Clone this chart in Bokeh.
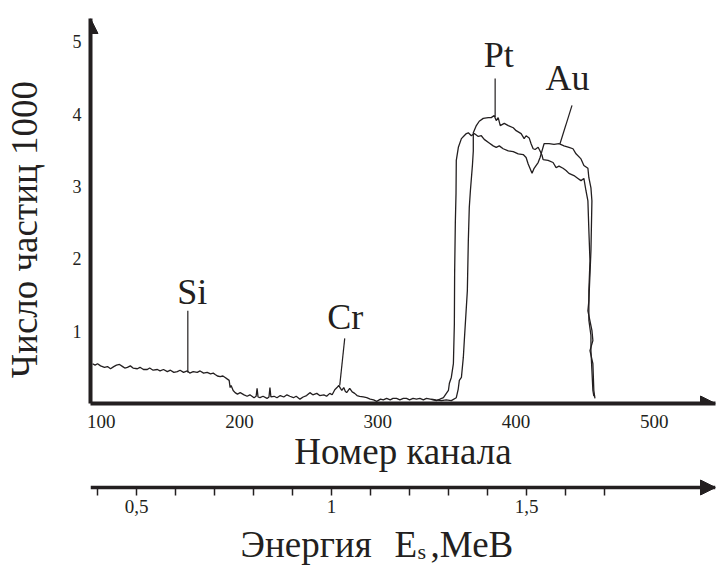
from bokeh.plotting import figure
from bokeh.layouts import column
from bokeh.models import Range1d, FixedTicker, Label, Arrow, NormalHead
from bokeh.core.properties import value
from bokeh.embed import file_html
from bokeh.resources import INLINE

# ---------------- data ----------------
# spectrum 1 (background Si / Cr + outer edge, lower-left plateau, Au hump)
channel_a = [93.7, 95.5, 97.3, 99.5, 102.3, 104.5, 106.7, 109, 111, 113.2, 115.5, 117, 118.9, 121, 123,
             126.1, 128, 130.5, 133.3, 135, 137.5, 140.6, 142.5, 145, 147.8, 150, 152.5, 155, 157, 159.5,
             162.2, 164, 166.5, 169.4, 171.5, 174, 176.6, 179, 181, 182.4, 184, 186, 188, 189.6, 191,
             192.5, 193.2, 193.9, 195.4, 196.8, 198.5, 200.5, 203.3, 205.5, 207.5, 210.5, 212, 212.7,
             213.4, 214.8, 217, 219.9, 221.3, 222, 222.7, 225, 227.1, 229.5, 232, 234.3, 236.4, 239, 241,
             243.7, 246, 248.5, 250.9, 253, 255.9, 258, 261, 263, 265.3, 267, 268.9, 270.5, 271.8, 273,
             274, 275.4, 276.5, 277.5, 279.7, 281.5, 283.3, 285, 286.9, 289.5, 292, 294.5, 297, 299.2,
             302, 304, 306.4, 309, 311, 313.6, 316, 318.5, 320.8, 323, 325.5, 328, 330.5, 333, 335.2,
             338, 340, 342.4, 345, 347.5, 349.6, 351.1, 351.8, 353.2, 354.7, 355.4, 355.6, 356.1, 356.6,
             356.8, 358.3, 360.5, 362.5, 364.1, 365.5, 367.7, 369.8, 372.7, 374.9, 377.0, 380.6, 383.5,
             385.7, 387.9, 390.7, 394.4, 398.0, 401.6, 405.2, 407.3, 408.8, 411.6, 413.1, 416.0, 417.4,
             418.8, 420.3, 423.9, 427.5, 431.1, 434.7, 438.3, 441.2, 443.4, 447.0, 449.1, 452.0, 452.7,
             454.2, 454.9, 454.2, 452.7, 452.0, 454.9, 455.6, 453.5, 455.6, 456.3, 457.1]
counts_a = [0.55, 0.53, 0.55, 0.52, 0.50, 0.51, 0.48, 0.51, 0.53, 0.54, 0.51, 0.49, 0.50, 0.52, 0.49,
            0.48, 0.50, 0.47, 0.47, 0.49, 0.46, 0.47, 0.45, 0.47, 0.44, 0.46, 0.43, 0.44, 0.46, 0.43,
            0.45, 0.42, 0.44, 0.43, 0.45, 0.42, 0.43, 0.41, 0.42, 0.40, 0.38, 0.37, 0.38, 0.36, 0.34,
            0.32, 0.22, 0.25, 0.18, 0.15, 0.13, 0.15, 0.12, 0.10, 0.12, 0.08, 0.10, 0.21,
            0.09, 0.08, 0.10, 0.07, 0.09, 0.22, 0.09, 0.10, 0.08, 0.11, 0.09, 0.12, 0.10, 0.08, 0.10,
            0.06, 0.09, 0.11, 0.15, 0.12, 0.14, 0.11, 0.12, 0.10, 0.14, 0.12, 0.19, 0.22, 0.25, 0.21,
            0.18, 0.22, 0.17, 0.15, 0.21, 0.16, 0.14, 0.11, 0.10, 0.09, 0.08, 0.06, 0.05, 0.03,
            0.06, 0.05, 0.07, 0.05, 0.07, 0.07, 0.05, 0.07, 0.07, 0.05, 0.07, 0.06, 0.07, 0.05, 0.07,
            0.06, 0.05, 0.04, 0.06, 0.08, 0.14, 0.18, 0.28, 0.36, 0.55, 1.10, 1.80, 2.49, 2.90,
            3.36, 3.54, 3.66, 3.70, 3.73, 3.74, 3.70, 3.73, 3.69, 3.70, 3.65, 3.60, 3.56,
            3.54, 3.56, 3.52, 3.49, 3.48, 3.45, 3.44, 3.40, 3.31, 3.18, 3.25, 3.33, 3.40,
            3.49, 3.59, 3.59, 3.58, 3.59, 3.56, 3.54, 3.52, 3.45, 3.38, 3.29, 3.25, 3.12,
            2.98, 2.80, 2.11, 1.42, 1.28, 1.01, 0.87, 0.73, 0.55, 0.18, 0.07]

# spectrum 2 (inner edge, Pt plateau, lower-right plateau)
channel_b = [338.8, 342, 346.0, 349.5, 353.2, 356.8, 358.2, 359.0, 360.5, 361.9, 362.6, 364.8, 365.5,
             366.2, 367.0, 368.5, 369.1, 369.1, 371.3, 373.4, 376.3, 379.9, 382.1, 384.2, 385.7, 387.1,
             388.6, 391.5, 394.4, 398.0, 400.1, 403.7, 405.9, 407.3, 409.5, 410.9, 412.4, 413.8, 416.0,
             417.4, 418.8, 419.6, 423.2, 426.8, 429.0, 431.1, 434.0, 436.2, 438.3, 441.9, 444.8, 447.0,
             449.1, 450.6, 452.0, 452.7, 453.5, 452.7, 452.7, 454.2, 454.2, 454.9, 455.6, 456.3]
counts_b = [0.06, 0.05, 0.04, 0.05, 0.04, 0.08, 0.20, 0.32, 0.36, 0.64, 0.87, 1.56, 2.25,
            2.71, 2.94, 3.30, 3.49, 3.74, 3.84, 3.90, 3.94, 3.95, 3.95, 3.98, 3.91, 3.95,
            3.84, 3.87, 3.84, 3.81, 3.77, 3.73, 3.66, 3.70, 3.67, 3.59, 3.52, 3.51, 3.54,
            3.49, 3.43, 3.37, 3.36, 3.33, 3.26, 3.28, 3.25, 3.22, 3.18, 3.15, 3.11, 3.08,
            3.11, 2.94, 2.80, 2.39, 1.97, 1.56, 1.15, 0.94, 0.73, 0.46, 0.18, 0.10]

x_ticks = [100, 200, 300, 400, 500]
y_ticks = [1, 2, 3, 4, 5]
energy_ticks = [0.4, 0.5, 0.6, 0.7, 0.8, 0.9, 1.0, 1.1, 1.2, 1.3, 1.4, 1.5, 1.6, 1.7]
energy_tick_text = {0.5: "0,5", 1.0: "1", 1.5: "1,5"}

peak_names = ["Si", "Cr", "Pt", "Au"]

# ---------------- layout / style ----------------
X0, X1 = 92.2, 544.3
Y0, Y1 = 0.0, 5.32
E0, E1 = 0.382, 1.984

name_x = [165.8, 276.4, 387.5, 437.2]
name_y = [1.54, 1.20, 4.81, 4.50]
lead_x0 = [162.6, 276.1, 384.9, 440.5]
lead_y0 = [1.28, 0.90, 4.49, 4.12]
lead_x1 = [162.6, 272.5, 384.9, 431.8]
lead_y1 = [0.43, 0.25, 3.96, 3.59]

INK = "#231f20"
FONT = "Liberation Serif"
PAD = "\u00a0" * 4   # keeps the rotated y title a little below the frame centre, as drawn

p = figure(width=718, height=478, x_range=Range1d(X0, X1), y_range=Range1d(Y0, Y1),
           output_backend="svg", toolbar_location=None,
           min_border_left=88, min_border_right=3, min_border_top=18, min_border_bottom=75)
p.outline_line_color = None
p.grid.visible = False

p.line(channel_a, counts_a, line_color=INK, line_width=1.3)
p.line(channel_b, counts_b, line_color=INK, line_width=1.3)

p.segment(lead_x0, lead_y0, lead_x1, lead_y1, line_color=INK, line_width=1.2)
p.text(name_x, name_y, text=peak_names, text_font=value(FONT), text_font_size=value("36px"),
       text_color=INK, text_align="center", text_baseline="middle")

for ax in (p.xaxis[0], p.yaxis[0]):
    ax.axis_line_width = 4
    ax.axis_line_color = INK
    ax.major_tick_line_color = None
    ax.minor_tick_line_color = None
    ax.major_tick_out = 0
    ax.major_tick_in = 0
    ax.major_label_text_font = FONT
    ax.major_label_text_color = INK
    ax.axis_label_text_font = FONT
    ax.axis_label_text_font_style = "normal"
    ax.axis_label_text_color = INK
p.xaxis.major_label_text_font_size = "19px"
p.yaxis.major_label_text_font_size = "18px"
p.xaxis.major_label_standoff = 11
p.yaxis.major_label_standoff = 9
p.xaxis.ticker = FixedTicker(ticks=x_ticks)
p.yaxis.ticker = FixedTicker(ticks=y_ticks)
p.xaxis.axis_label = "Номер канала"
p.xaxis.axis_label_text_font_size = "37px"
p.xaxis.axis_label_standoff = 0
p.yaxis.axis_label = "Число частиц 1000" + PAD
p.yaxis.axis_label_text_font_size = "37px"
p.yaxis.axis_label_standoff = 25

p.add_layout(Arrow(x_start=X0, y_start=Y0, x_end=X0, y_end=Y1, line_color=None,
                   end=NormalHead(size=15, fill_color=INK, line_color=INK)))
p.add_layout(Arrow(x_start=X0, y_start=Y0, x_end=X1, y_end=Y0, line_color=None,
                   end=NormalHead(size=15, fill_color=INK, line_color=INK)))

# ---- energy axis (frame covers the whole strip; axis drawn at a fixed location) ----
EAX_Y = 79
q = figure(width=718, height=88, x_range=Range1d(E0, E1), y_range=Range1d(0, 88),
           output_backend="svg", toolbar_location=None,
           min_border_left=88, min_border_right=3, min_border_top=0, min_border_bottom=0)
q.outline_line_color = None
q.grid.visible = False
q.yaxis.visible = False
ex = q.xaxis[0]
ex.fixed_location = EAX_Y
ex.ticker = FixedTicker(ticks=energy_ticks)
ex.major_label_overrides = {t: energy_tick_text.get(t, "") for t in energy_ticks}
ex.axis_line_width = 3.5
ex.axis_line_color = INK
ex.major_tick_out = 8
ex.major_tick_in = 0
ex.major_tick_line_width = 1.5
ex.major_tick_line_color = INK
ex.minor_tick_line_color = None
ex.major_label_text_font = FONT
ex.major_label_text_font_size = "19px"
ex.major_label_text_color = INK
ex.major_label_standoff = 4
q.add_layout(Arrow(x_start=E0, y_start=EAX_Y, x_end=E1, y_end=EAX_Y, line_color=None,
                   end=NormalHead(size=15, fill_color=INK, line_color=INK)))

for txt, lx, ly, fs in [("Энергия", 150, 22, "37px"), ("E", 304, 22, "37px"),
                        ("s", 327, 15, "22px"), (",МеВ", 340, 22, "37px")]:
    q.add_layout(Label(x=lx, y=ly, x_units="screen", y_units="screen", text=txt,
                       text_align="left", text_baseline="middle",
                       text_font=FONT, text_font_size=fs, text_color=INK))

layout = column(p, q)
open("out.html", "w").write(file_html(layout, INLINE))
